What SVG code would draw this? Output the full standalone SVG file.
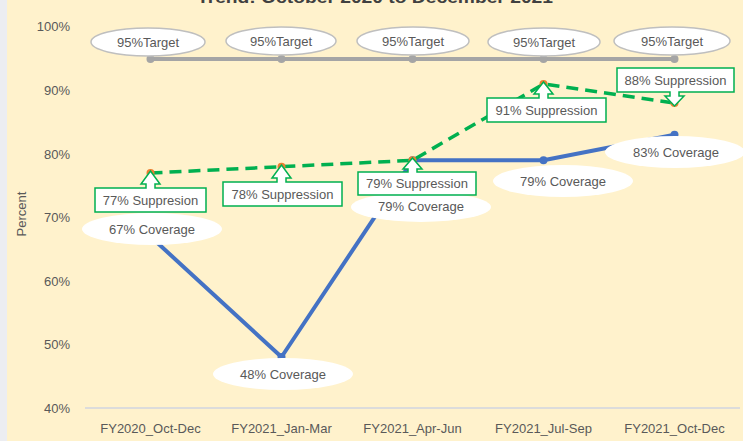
<svg xmlns="http://www.w3.org/2000/svg" width="743" height="441" viewBox="0 0 743 441">
<style>
text{font-family:"Liberation Sans",Arial,sans-serif;fill:#595959;font-size:13px}
.ax{text-anchor:end}
.cat{text-anchor:middle}
.tgt ellipse{fill:#fff;stroke:#BFBFBF;stroke-width:1.5}
.cov ellipse{fill:#fff}
.sup path{fill:#fff;stroke:#00B050;stroke-width:1.5}
.lbl{text-anchor:middle}
</style>
<rect x="0" y="0" width="743" height="441" fill="#ECEDF1"/>
<rect x="7" y="0" width="736" height="441" fill="#FFF2CC"/>
<text x="375" y="3" text-anchor="middle" style="font-size:17px;font-weight:bold;fill:#404040" textLength="356" lengthAdjust="spacingAndGlyphs">Trend: October 2020 to December 2021</text>
<g id="axes">
<text class="ax" x="70" y="31">100%</text>
<text class="ax" x="70" y="95">90%</text>
<text class="ax" x="70" y="159">80%</text>
<text class="ax" x="70" y="222">70%</text>
<text class="ax" x="70" y="286">60%</text>
<text class="ax" x="70" y="349">50%</text>
<text class="ax" x="70" y="413">40%</text>
<line x1="85" y1="408" x2="740" y2="408" stroke="#D0D5E0" stroke-width="1.5"/>
<text class="cat" x="150.5" y="433">FY2020_Oct-Dec</text>
<text class="cat" x="281.5" y="433">FY2021_Jan-Mar</text>
<text class="cat" x="412.5" y="433">FY2021_Apr-Jun</text>
<text class="cat" x="543.5" y="433">FY2021_Jul-Sep</text>
<text class="cat" x="674.5" y="433">FY2021_Oct-Dec</text>
<text transform="translate(26,214) rotate(-90)" text-anchor="middle">Percent</text>
</g>
<g id="connectors">
<polyline points="150.5,59 281.5,59 412.5,59 543.5,59 674.5,59" fill="none" stroke="#A5A5A5" stroke-width="4"/>
<g fill="#A5A5A5"><circle cx="150.5" cy="59" r="4"/><circle cx="281.5" cy="59" r="4"/><circle cx="412.5" cy="59" r="4"/><circle cx="543.5" cy="59" r="4"/><circle cx="674.5" cy="59" r="4"/></g>
<polyline points="150.5,236.5 281.5,357 412.5,160.3 543.5,160.3 674.5,134.7" fill="none" stroke="#4472C4" stroke-width="4" stroke-linejoin="round"/>
<g fill="#4472C4"><circle cx="150.5" cy="236.5" r="4"/><circle cx="281.5" cy="357" r="4"/><circle cx="412.5" cy="160.3" r="4"/><circle cx="543.5" cy="160.3" r="4"/><circle cx="674.5" cy="134.7" r="4"/></g>
<polyline points="150.5,173 281.5,166.7 412.5,160.3 543.5,84 674.5,103" fill="none" stroke="#00B050" stroke-width="3.5" stroke-dasharray="12,7"/>
<g fill="#ED7D31"><circle cx="150.5" cy="173" r="4"/><circle cx="281.5" cy="166.7" r="4"/><circle cx="412.5" cy="160.3" r="4"/><circle cx="543.5" cy="84" r="4"/><circle cx="674.5" cy="103" r="4"/></g>
</g>
<g id="target-labels" class="tgt">
<g id="t1"><ellipse cx="148" cy="42" rx="57" ry="14"/><text class="lbl" x="148" y="47">95%Target</text></g>
<g id="t2"><ellipse cx="281" cy="41" rx="55" ry="14"/><text class="lbl" x="281" y="46">95%Target</text></g>
<g id="t3"><ellipse cx="413" cy="41" rx="56" ry="14"/><text class="lbl" x="413" y="46">95%Target</text></g>
<g id="t4"><ellipse cx="544" cy="42" rx="56" ry="14"/><text class="lbl" x="544" y="47">95%Target</text></g>
<g id="t5"><ellipse cx="672" cy="41" rx="58" ry="14"/><text class="lbl" x="672" y="46">95%Target</text></g>
</g>
<g id="coverage-labels" class="cov">
<g id="c1"><ellipse cx="152" cy="229" rx="70" ry="16"/><text class="lbl" x="152" y="234">67% Coverage</text></g>
<g id="c2"><ellipse cx="283" cy="374" rx="70" ry="16"/><text class="lbl" x="283" y="379">48% Coverage</text></g>
<g id="c3"><ellipse cx="421" cy="207" rx="70" ry="15"/><text class="lbl" x="421" y="211">79% Coverage</text></g>
<g id="c4"><ellipse cx="563" cy="181" rx="70" ry="16"/><text class="lbl" x="563" y="186">79% Coverage</text></g>
<g id="c5"><ellipse cx="675" cy="152" rx="70" ry="16"/><text class="lbl" x="676" y="157">83% Coverage</text></g>
</g>
<g id="suppression-labels" class="sup">
<g id="s1"><path d="M95,188 H146 V184 H141 L150.5,171 L160,184 H155 V188 H206 V212 H95 Z"/><text class="lbl" x="150.5" y="205">77% Suppresion</text></g>
<g id="s2"><path d="M223,182 H277 V178 H272 L281.5,165 L291,178 H286 V182 H342 V206 H223 Z"/><text class="lbl" x="282.5" y="199">78% Suppression</text></g>
<g id="s3"><path d="M358,172 H408 V169 H403 L412.5,158 L422,169 H417 V172 H476 V195 H358 Z"/><text class="lbl" x="417" y="188">79% Suppression</text></g>
<g id="s4"><path d="M487,98 H539 V94 H534 L543.5,82 L553,94 H548 V98 H606 V122 H487 Z"/><text class="lbl" x="546.5" y="115">91% Suppression</text></g>
<g id="s5"><path d="M617,68 H734 V92 H679 V96 H684 L674.5,106 L665,96 H670 V92 H617 Z"/><text class="lbl" x="675.5" y="85">88% Suppression</text></g>
</g>
</svg>
